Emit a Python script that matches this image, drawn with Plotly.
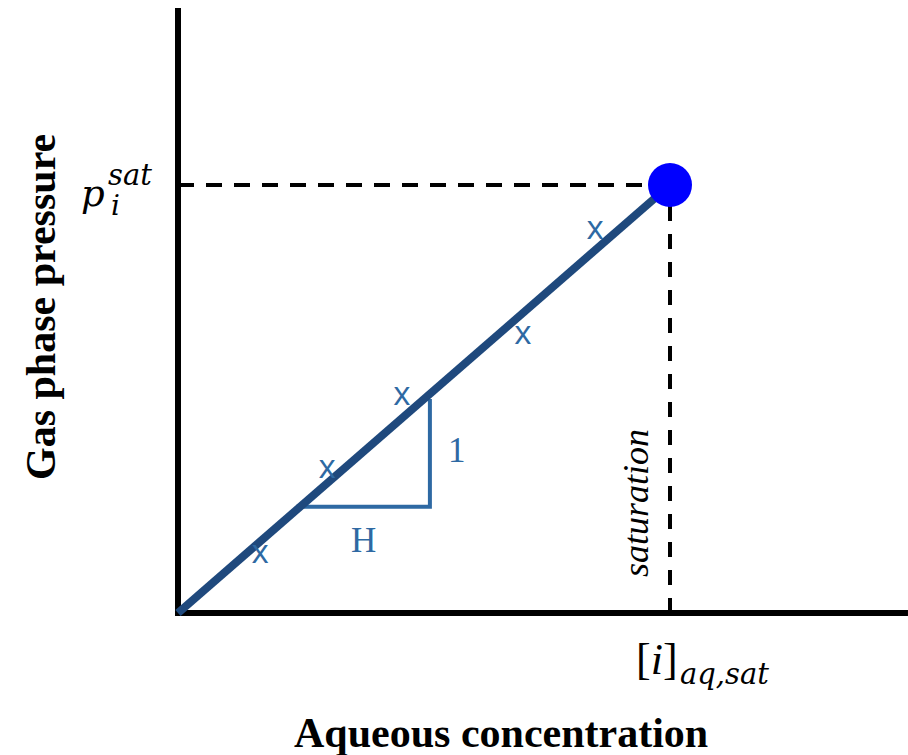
import plotly.graph_objects as go

# ---- data (normalised: saturation point = (1, 1)) ----
henry_line_x = [0.0, 1.0]
henry_line_y = [0.0, 1.0]
sat_point_x = [1.0]
sat_point_y = [1.0]
meas_x = [0.167, 0.303, 0.455, 0.701, 0.848]
meas_y = [0.136, 0.334, 0.505, 0.647, 0.893]
tri_x = [0.24, 0.512, 0.512]
tri_y = [0.248, 0.248, 0.50]
x_max = 1.4837
y_max = 1.4136

DARK = "#1F497D"
MID = "#2E69A3"
SERIF = "Liberation Serif, Times New Roman, serif"
MATH = "DejaVu Serif"

# pixel scale: origin at (178, 613), 492 px per x unit, 428 px per y unit
X0, Y0 = 178.0, 613.0
XS = 492.0
YS = 428.0
# plot area in pixels: x 168..908, y 5..623
PL, PR, PT, PB = 168.0, 908.0, 5.0, 623.0
def px2paper(px):
    return (px - PL) / (PR - PL)
def py2paper(py):
    return (PB - py) / (PB - PT)

fig = go.Figure()

# axes
fig.add_trace(go.Scatter(x=[0, 0, x_max], y=[y_max, 0, 0], mode="lines",
                         line=dict(color="black", width=6), hoverinfo="skip"))
# dashed guides
fig.add_trace(go.Scatter(x=[0, sat_point_x[0]], y=[sat_point_y[0], sat_point_y[0]], mode="lines",
                         line=dict(color="black", width=4, dash="16px,12px"), hoverinfo="skip"))
fig.add_trace(go.Scatter(x=[sat_point_x[0], sat_point_x[0]], y=[0, sat_point_y[0]], mode="lines",
                         line=dict(color="black", width=4, dash="15px,13px"), hoverinfo="skip"))
# slope triangle
fig.add_trace(go.Scatter(x=tri_x, y=tri_y, mode="lines",
                         line=dict(color=MID, width=4), hoverinfo="skip"))
# Henry's law line
fig.add_trace(go.Scatter(x=henry_line_x, y=henry_line_y, mode="lines",
                         line=dict(color=DARK, width=8), hoverinfo="skip"))
# measurements
fig.add_trace(go.Scatter(x=meas_x, y=meas_y, mode="text", text=["x"] * len(meas_x),
                         textposition="middle center",
                         textfont=dict(family="Open Sans", size=33, color=MID),
                         hoverinfo="skip"))
# saturation point
fig.add_trace(go.Scatter(x=sat_point_x, y=sat_point_y, mode="markers",
                         marker=dict(color="#0000FF", size=44), hoverinfo="skip"))

ann = []
def A(px, py, text, size, color="black", family=SERIF, style="normal", weight="normal", angle=0):
    ann.append(dict(x=px2paper(px), y=py2paper(py), xref="paper", yref="paper", text=text,
                    showarrow=False, xanchor="center", yanchor="middle", textangle=angle,
                    font=dict(family=family, size=size, color=color, style=style, weight=weight)))

A(457, 450, "1", 35, MID)
A(363, 540, "H", 35, MID)
A(636, 503, "saturation", 36, style="italic", angle=-90)
A(41, 307, "Gas phase pressure", 42, weight="bold", angle=-90)
A(501, 733, "Aqueous concentration", 42, weight="bold")
A(93, 193, "p", 37, family=MATH, style="italic")
A(115, 205, "i", 28, family=MATH, style="italic")
A(130, 175, "sat", 29, family=MATH, style="italic")
A(657, 659, "[<i>i</i>]", 44)
A(724, 674, "aq,sat", 29, family=MATH, style="italic")

fig.update_layout(
    width=908, height=755,
    margin=dict(l=PL, r=0, t=PT, b=755 - PB),
    paper_bgcolor="white", plot_bgcolor="white",
    showlegend=False,
    xaxis=dict(range=[-(X0 - PL) / XS, (PR - X0) / XS], visible=False, fixedrange=True),
    yaxis=dict(range=[-(PB - Y0) / YS, (Y0 - PT) / YS], visible=False, fixedrange=True),
    annotations=ann,
)

fig.write_html("out.html")
